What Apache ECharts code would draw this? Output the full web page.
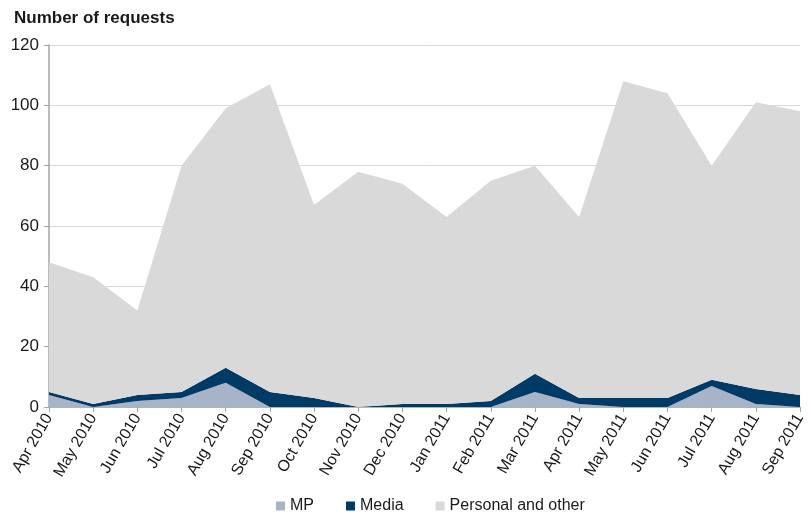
<!DOCTYPE html>
<html>
<head>
<meta charset="utf-8">
<script src="https://cdn.jsdelivr.net/npm/echarts@6/dist/echarts.min.js"></script>
<style>
  html, body { margin: 0; padding: 0; background: #fff; }
  #chart { width: 811px; height: 520px; }
</style>
</head>
<body>
<div id="chart"></div>
<script>
// 月份
var months = ['Apr 2010', 'May 2010', 'Jun 2010', 'Jul 2010', 'Aug 2010', 'Sep 2010',
  'Oct 2010', 'Nov 2010', 'Dec 2010', 'Jan 2011', 'Feb 2011', 'Mar 2011',
  'Apr 2011', 'May 2011', 'Jun 2011', 'Jul 2011', 'Aug 2011', 'Sep 2011']
// 各类请求数
var mp = [4, 0, 2, 3, 8, 0, 0, 0, 0, 0, 0, 5, 1, 0, 0, 7, 1, 0]
var media = [1, 1, 2, 2, 5, 5, 3, 0, 1, 1, 2, 6, 2, 3, 3, 2, 5, 4]
var personal = [43, 42, 28, 75, 86, 102, 64, 78, 73, 62, 73, 69, 60, 105, 101, 71, 95, 94]

var font = 'Liberation Sans, Arial, sans-serif'

function areaSeries (name, data, color) {
  return {
    name: name,
    type: 'line',
    stack: 'total',
    data: data,
    symbol: 'none',
    lineStyle: { width: 0 },
    areaStyle: { color: color, opacity: 1 },
    itemStyle: { color: color },
    silent: true
  }
}

var myChart = echarts.init(document.getElementById('chart'))
var option = {
  backgroundColor: '#ffffff',
  animation: false,
  title: {
    text: 'Number of requests',
    left: 9,
    top: 5,
    textStyle: { fontFamily: font, fontSize: 17, fontWeight: 'bold', color: '#1a1a1a' }
  },
  legend: {
    bottom: 1,
    left: 271,
    itemWidth: 9,
    itemHeight: 9,
    itemGap: 32,
    icon: 'rect',
    textStyle: { fontFamily: font, fontSize: 16, color: '#1a1a1a' },
    data: ['MP', 'Media', 'Personal and other']
  },
  grid: { left: 49, right: 11, top: 45, bottom: 113 },
  xAxis: {
    type: 'category',
    data: months,
    boundaryGap: false,
    axisLine: { lineStyle: { color: '#a6a6a6', width: 1.5 } },
    axisTick: { show: true, length: 5, lineStyle: { color: '#a6a6a6' } },
    axisLabel: {
      interval: 0,
      rotate: 60,
      margin: 8,
      fontFamily: font,
      fontSize: 16,
      color: '#1a1a1a'
    }
  },
  yAxis: {
    type: 'value',
    min: 0,
    max: 120,
    interval: 20,
    axisLine: { show: true, lineStyle: { color: '#a6a6a6', width: 1.5 } },
    axisTick: { show: true, length: 5, lineStyle: { color: '#a6a6a6' } },
    splitLine: { lineStyle: { color: '#d9d9d9' } },
    axisLabel: { fontFamily: font, fontSize: 17, color: '#1a1a1a', margin: 10 }
  },
  series: [
    areaSeries('MP', mp, '#a7b3c7'),
    areaSeries('Media', media, '#003a66'),
    areaSeries('Personal and other', personal, '#d9d9d9')
  ]
}
myChart.setOption(option)
</script>
</body>
</html>
